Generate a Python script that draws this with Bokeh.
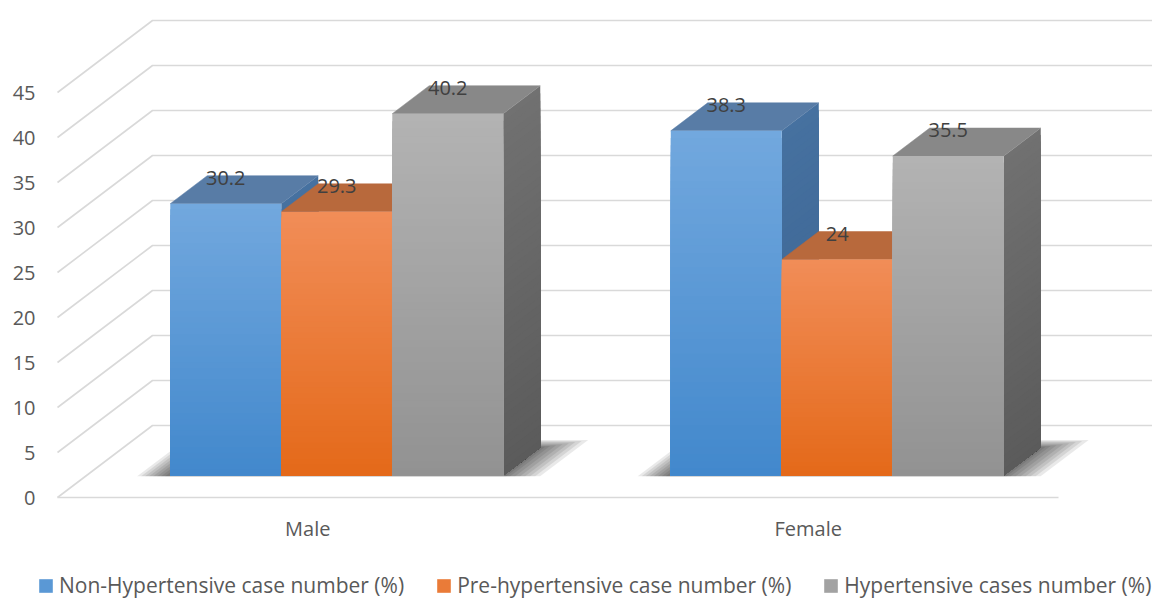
import numpy as np
from bokeh.plotting import figure
from bokeh.models import Range1d, Legend, LegendItem
from bokeh.embed import file_html
from bokeh.resources import INLINE
from bokeh.core.properties import value

# ---------------- data ----------------
categories = ["Male", "Female"]
series_names = ["Non-Hypertensive case number (%)",
                "Pre-hypertensive case number (%)",
                "Hypertensive cases number (%)"]
non_hypertensive = [30.2, 38.3]
pre_hypertensive = [29.3, 24.0]
hypertensive = [40.2, 35.5]
series_values = [non_hypertensive, pre_hypertensive, hypertensive]
y_ticks = [0, 5, 10, 15, 20, 25, 30, 35, 40, 45]
y_tick_labels = [str(t) for t in y_ticks]

# ---------------- styles ----------------
FRONT_TOP = [(114, 168, 222), (241, 141, 88), (179, 179, 179)]
FRONT_BOT = [(66, 136, 204), (228, 105, 25), (146, 146, 146)]
SIDE_TOP = [(70, 113, 160), (184, 98, 45), (113, 113, 113)]
SIDE_BOT = [(58, 98, 143), (168, 84, 32), (91, 91, 91)]
TOP_COL = ["#587ca6", "#b8693c", "#888888"]
GRID_COL = "#d9d9d9"
AXIS_TXT = "#595959"
LABEL_TXT = "#404040"
FONT = "Open Sans"
FS = "20px"
LEGEND_FS = "21px"

W, H = 1152, 599
PX_PER_UNIT = 9.0          # vertical pixels per value unit
CAT_PX = 500.5             # horizontal pixels per category on the floor front
FLOOR_X0_PX, FLOOR_Y0_PX = 57, 497
DEPTH_DX_PX, DEPTH_DY_PX = 95, 72
DX = DEPTH_DX_PX / CAT_PX
DY = DEPTH_DY_PX / PX_PER_UNIT
D0, D1 = 22 / 72, 50 / 72     # bar depth span (fraction of floor depth)
BAR_W = 111 / CAT_PX
LABEL_GAP = 26 / PX_PER_UNIT           # data label centre above bar top
TICK_GAP_X = 22 / CAT_PX               # tick label right edge left of wall
CAT_LABEL_Y = -31 / PX_PER_UNIT        # category label centre below floor
N_STRIPES = 48


def X(x, d):
    return x + d * DX


def Y(v, d):
    return v + d * DY


def mix(c0, c1, t):
    r, g, b = [int(round(a + (bb - a) * t)) for a, bb in zip(c0, c1)]
    return "#%02x%02x%02x" % (r, g, b)


p = figure(width=W, height=H, output_backend="svg", toolbar_location=None,
           x_range=Range1d(-FLOOR_X0_PX / CAT_PX, (W - FLOOR_X0_PX) / CAT_PX),
           y_range=Range1d((FLOOR_Y0_PX - H) / PX_PER_UNIT, FLOOR_Y0_PX / PX_PER_UNIT),
           min_border=0, title=None, x_axis_location=None, y_axis_location=None)
p.outline_line_color = None
p.xgrid.visible = False
p.ygrid.visible = False
p.background_fill_color = "white"
p.border_fill_color = "white"

n_cat = len(categories)
n_ser = len(series_values)
group_w = n_ser * BAR_W

# value-axis tick labels (at the front edge of the left wall)
p.text(x=[X(0, 0) - TICK_GAP_X] * len(y_ticks), y=y_ticks,
       text=y_tick_labels, text_font=value(FONT), text_font_size=FS,
       text_color=AXIS_TXT, text_align="right", text_baseline="middle")
# category labels
p.text(x=[i + 0.5 for i in range(n_cat)], y=[CAT_LABEL_Y] * n_cat, text=categories,
       text_font=value(FONT), text_font_size=FS, text_color=AXIS_TXT,
       text_align="center", text_baseline="middle")

# 3D walls: gridlines
gx, gy = [], []
for v in y_ticks:
    gx.append([X(0, 0), X(0, 1), X(n_cat, 1)])
    gy.append([Y(v, 0), Y(v, 1), Y(v, 1)])
gx.append([X(0, 0), X(n_cat, 0)])
gy.append([Y(0, 0), Y(0, 0)])
p.multi_line(gx, gy, line_color=GRID_COL, line_width=1.6)

# soft floor shadows (layered, darker toward the bars)
shadow_layers = [(32, 38, 0.105), (28, 33, 0.09), (24, 28, 0.075), (20, 23, 0.06),
                 (16, 18, 0.045), (12, 13, 0.03), (8, 8, 0.02), (4, 4, 0.01)]
for (pl, pr, ed) in shadow_layers:
    sxs, sys_ = [], []
    for ci in range(n_cat):
        xl = ci + 0.5 - group_w / 2 - pl / CAT_PX
        xr = ci + 0.5 + group_w / 2 + pr / CAT_PX
        da, db = D0 - 0.012, D1 + ed
        sxs.append([X(xl, da), X(xr, da), X(xr, db), X(xl, db)])
        sys_.append([Y(0, da), Y(0, da), Y(0, db), Y(0, db)])
    p.patches(sxs, sys_, fill_color="black", fill_alpha=0.085, line_color=None)

side_xs, side_ys, side_c = [], [], []
top_xs, top_ys, top_c = [], [], []
front = [dict(l=[], r=[], b=[], t=[], c=[]) for _ in range(n_ser)]
lab_x, lab_y, lab_t = [], [], []
for ci in range(n_cat):
    for si in range(n_ser):
        v = series_values[si][ci]
        x0 = ci + 0.5 - group_w / 2 + si * BAR_W
        x1 = x0 + BAR_W
        # side face: nested stripes from full height down (no seams)
        for k in range(N_STRIPES, 0, -1):
            b = v * k / N_STRIPES
            side_xs.append([X(x1, D0), X(x1, D1), X(x1, D1), X(x1, D0)])
            side_ys.append([Y(0, D0), Y(0, D1), Y(b, D1), Y(b, D0)])
            side_c.append(mix(SIDE_BOT[si], SIDE_TOP[si], (k - 0.5) / N_STRIPES))
        # top face
        top_xs.append([X(x0, D0), X(x1, D0), X(x1, D1), X(x0, D1)])
        top_ys.append([Y(v, D0), Y(v, D0), Y(v, D1), Y(v, D1)])
        top_c.append(TOP_COL[si])
        # front face: nested stripes from full height down (no seams)
        f = front[si]
        for k in range(N_STRIPES, 0, -1):
            f["l"].append(X(x0, D0))
            f["r"].append(X(x1, D0))
            f["b"].append(Y(0, D0))
            f["t"].append(Y(v * k / N_STRIPES, D0))
            f["c"].append(mix(FRONT_BOT[si], FRONT_TOP[si], (k - 0.5) / N_STRIPES))
        lab_x.append(X((x0 + x1) / 2, D0))
        lab_y.append(Y(v, D0) + LABEL_GAP)
        lab_t.append(f"{v:g}")

p.patches(side_xs, side_ys, fill_color=side_c, line_color=None)
p.patches(top_xs, top_ys, fill_color=top_c, line_color=top_c, line_width=0.5)
front_r = []
for si in range(n_ser):
    f = front[si]
    front_r.append(p.quad(left=f["l"], right=f["r"], bottom=f["b"], top=f["t"],
                          fill_color=f["c"], line_color=None))

p.text(x=lab_x, y=lab_y, text=lab_t, text_font=value(FONT), text_font_size=FS,
       text_color=LABEL_TXT, text_align="center", text_baseline="middle")

# legend (swatch uses a mid-height stripe colour of each series)
items = [LegendItem(label=series_names[si], renderers=[front_r[si]], index=N_STRIPES // 2)
         for si in range(n_ser)]
legend = Legend(items=items, orientation="horizontal", location=(37, 0),
                glyph_width=17, glyph_height=17, label_standoff=5, spacing=31,
                padding=0, margin=0, border_line_color=None, background_fill_alpha=0,
                label_text_font=FONT, label_text_font_size=LEGEND_FS,
                label_text_color=AXIS_TXT)
p.add_layout(legend, "center")

open("out.html", "w").write(file_html(p, INLINE))
